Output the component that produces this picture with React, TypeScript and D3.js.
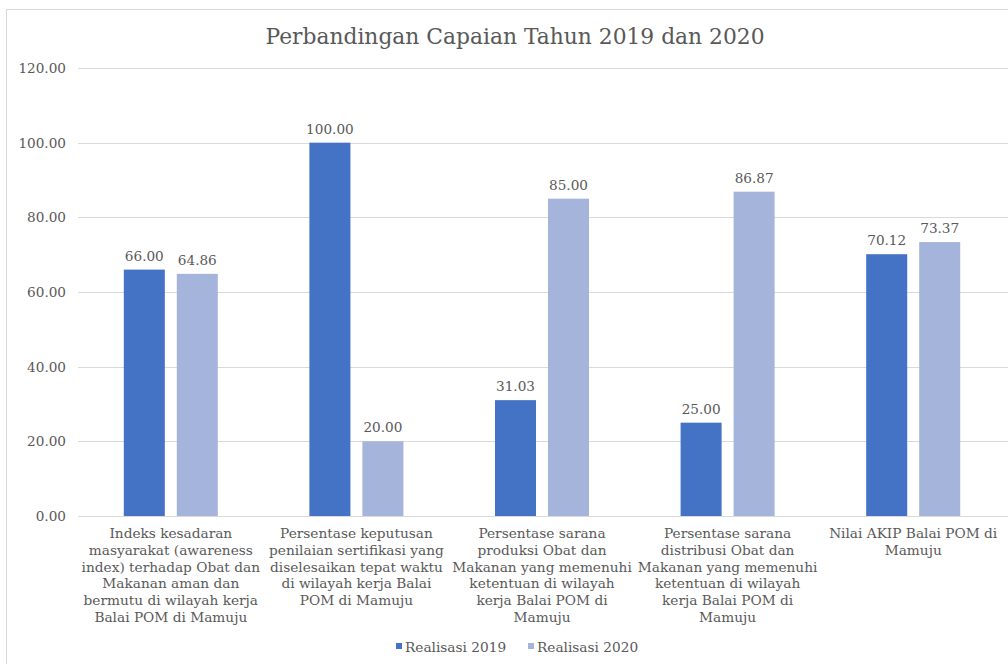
import * as React from 'react';
import * as d3 from 'd3';

const categories = [
  ['Indeks kesadaran', 'masyarakat (awareness', 'index) terhadap Obat dan', 'Makanan aman dan', 'bermutu di wilayah kerja', 'Balai POM di Mamuju'],
  ['Persentase keputusan', 'penilaian sertifikasi yang', 'diselesaikan tepat waktu', 'di wilayah kerja Balai', 'POM di Mamuju'],
  ['Persentase sarana', 'produksi Obat dan', 'Makanan yang memenuhi', 'ketentuan di wilayah', 'kerja Balai POM di', 'Mamuju'],
  ['Persentase sarana', 'distribusi Obat dan', 'Makanan yang memenuhi', 'ketentuan di wilayah', 'kerja Balai POM di', 'Mamuju'],
  ['Nilai AKIP Balai POM di', 'Mamuju'],
];
const seriesNames = ['Realisasi 2019', 'Realisasi 2020'];
const realisasi2019 = [66.0, 100.0, 31.03, 25.0, 70.12];
const realisasi2020 = [64.86, 20.0, 85.0, 86.87, 73.37];
const yTicks = [0, 20, 40, 60, 80, 100, 120];
const colours = ['#4472C4', '#A5B4DA'];

const W = 1008;
const H = 664;
const FONT = '"DejaVu Serif", serif';
const TEXT = '#595959';

export default function App() {
  const ref = React.useRef<SVGSVGElement>(null);

  React.useEffect(() => {
    const svg = d3.select(ref.current);
    svg.selectAll('*').remove();

    const left = 78, right = 1006, top = 68, bottom = 516;
    const x0 = d3.scaleBand<number>()
      .domain(d3.range(categories.length))
      .range([left, right]);
    const x1 = d3.scaleBand<number>()
      .domain([0, 1])
      .range([0, x0.bandwidth()])
      .paddingInner(0.226)
      .paddingOuter(0.864);
    const y = d3.scaleLinear().domain([0, 120]).range([bottom, top]);

    // chart frame
    svg.append('rect')
      .attr('x', 6.5).attr('y', 9.5)
      .attr('width', W).attr('height', H)
      .attr('fill', 'white')
      .attr('stroke', '#d9d9d9');

    svg.append('text')
      .attr('x', 515).attr('y', 44)
      .attr('text-anchor', 'middle')
      .style('font-family', FONT)
      .style('font-size', '21.8px')
      .attr('fill', TEXT)
      .text('Perbandingan Capaian Tahun 2019 dan 2020');

    // gridlines + y labels
    const grid = svg.append('g');
    grid.selectAll('line')
      .data(yTicks)
      .enter().append('line')
      .attr('x1', left).attr('x2', W)
      .attr('y1', d => Math.round(y(d)) + 0.5)
      .attr('y2', d => Math.round(y(d)) + 0.5)
      .attr('stroke', '#d9d9d9')
      .attr('stroke-width', 1);
    grid.selectAll('text')
      .data(yTicks)
      .enter().append('text')
      .attr('x', 66)
      .attr('y', d => y(d) + 5)
      .attr('text-anchor', 'end')
      .style('font-family', FONT)
      .style('font-size', '13.6px')
      .attr('fill', TEXT)
      .text(d => d.toFixed(2));

    const series = [realisasi2019, realisasi2020];
    series.forEach((vals, s) => {
      const g = svg.append('g');
      g.selectAll('rect')
        .data(vals)
        .enter().append('rect')
        .attr('x', (d, i) => (x0(i) as number) + (x1(s) as number))
        .attr('y', d => y(d))
        .attr('width', x1.bandwidth())
        .attr('height', d => y(0) - y(d))
        .attr('fill', colours[s]);
      g.selectAll('text')
        .data(vals)
        .enter().append('text')
        .attr('x', (d, i) => (x0(i) as number) + (x1(s) as number) + x1.bandwidth() / 2)
        .attr('y', d => y(d) - 9)
        .attr('text-anchor', 'middle')
        .style('font-family', FONT)
        .style('font-size', '13.6px')
        .attr('fill', TEXT)
        .text(d => d.toFixed(2));
    });

    // category labels
    const cat = svg.append('g');
    categories.forEach((lines, i) => {
      const t = cat.append('text')
        .attr('text-anchor', 'middle')
        .style('font-family', FONT)
        .style('font-size', '13.7px')
        .attr('fill', TEXT);
      lines.forEach((line, k) => {
        t.append('tspan')
          .attr('x', (x0(i) as number) + x0.bandwidth() / 2)
          .attr('y', 538 + k * 16.8)
          .text(line);
      });
    });

    // legend
    const legendX = [396, 528];
    const legend = svg.append('g');
    seriesNames.forEach((name, s) => {
      legend.append('rect')
        .attr('x', legendX[s]).attr('y', 643)
        .attr('width', 6).attr('height', 6)
        .attr('fill', colours[s]);
      legend.append('text')
        .attr('x', legendX[s] + 9).attr('y', 652)
        .style('font-family', FONT)
        .style('font-size', '13.7px')
        .attr('fill', TEXT)
        .text(name);
    });
  }, []);

  return (
    <svg ref={ref} width={W} height={H}
      style={{ position: 'absolute', left: 0, top: 0, display: 'block', background: 'white' }} />
  );
}
